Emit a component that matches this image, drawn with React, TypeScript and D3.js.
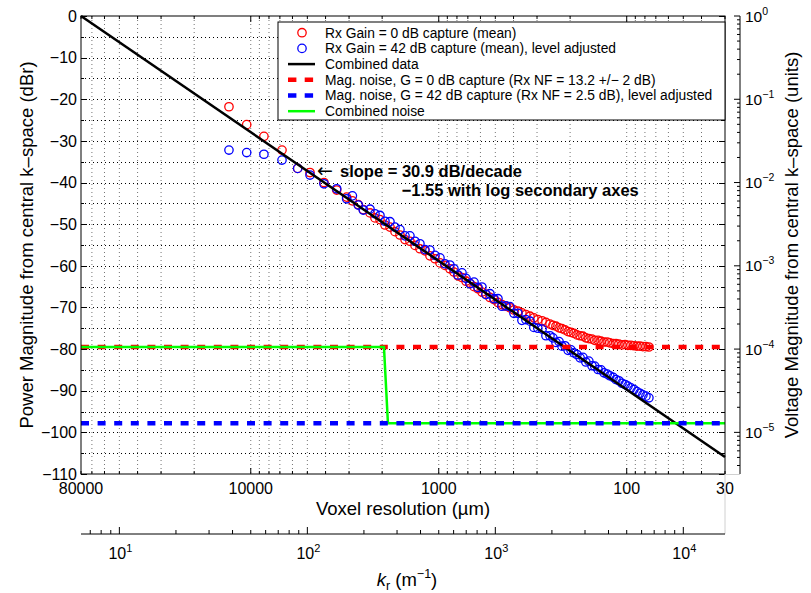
import React from "react";
import * as d3 from "d3";

// voxel resolution (um) of each radial k-space sample, shared by both captures
const voxelRes = [
  13060, 10510, 8510, 6820, 5630, 4840, 4080, 3490, 3090, 2880, 2680, 2520, 2320,
  2184, 2054, 1932, 1817, 1709, 1608, 1512, 1423, 1338, 1259, 1184, 1114, 1047, 985, 927, 872,
  830, 790, 752, 716, 682, 649, 618, 589, 561, 534, 508, 484, 461, 439, 418, 398, 379, 361, 344,
  327, 312, 297, 282, 269, 256,
  247, 238, 229, 221, 213, 205, 198, 191, 184, 177, 171, 165, 159, 153, 148, 142, 137, 132, 127,
  123, 118, 114, 110, 106, 102, 98.5, 95.0, 91.5, 88.2, 85.0, 82.0, 79.0, 76.2,
];

// Rx gain 0 dB capture (mean), dBr
const gain0Db = [
  -21.8, -26.1, -28.9, -32.2, -36.6, -37.6, -40.0, -41.8, -43.5, -44.4, -45.3, -46.5, -47.3,
  -48.5, -48.9, -50.2, -50.7, -51.8, -52.6, -53.7, -54.1, -55.1, -55.9, -56.4, -57.6, -58.3, -59.3, -59.9, -60.7,
  -61.5, -62.4, -62.8, -63.7, -64.2, -65.0, -65.5, -66.3, -66.8, -67.6, -68.1, -68.8, -69.3, -69.7, -70.1,
  -70.6, -70.9, -71.3, -71.7, -72.1, -72.5, -72.9, -73.2, -73.6, -74.0,
  -74.3, -74.5, -74.9, -75.1, -75.4, -75.8, -76.0, -76.2, -76.6, -76.8, -76.9, -77.3, -77.5, -77.6, -77.9,
  -77.9, -78.1, -78.3, -78.3, -78.5, -78.7, -78.7, -78.8, -79.0, -78.9, -79.1, -79.1, -79.2, -79.3, -79.3,
  -79.4, -79.4, -79.5,
];

// Rx gain 42 dB capture (mean), level adjusted, dBr
const gain42Db = [
  -32.2, -32.8, -33.2, -34.6, -36.6, -38.2, -40.3, -41.5, -43.9, -43.2, -45.4, -46.6, -46.4,
  -47.5, -47.9, -49.3, -49.4, -50.7, -51.3, -52.8, -52.8, -54.1, -54.7, -56.1, -56.2, -57.5, -58.1, -59.5, -59.8,
  -60.7, -62.2, -61.7, -63.0, -64.3, -63.9, -65.2, -65.1, -66.9, -66.7, -67.9, -67.9, -69.7, -69.6, -69.8,
  -71.4, -71.4, -73.1, -72.9, -73.3, -74.8, -75.0, -75.2, -76.8, -76.8,
  -77.3, -78.4, -78.2, -79.3, -79.2, -80.3, -80.2, -80.9, -81.3, -82.1, -82.0, -83.1, -82.9, -84.0, -84.1,
  -84.9, -85.0, -85.7, -86.0, -86.4, -86.8, -87.3, -87.6, -88.2, -88.5, -88.9, -89.3, -89.7, -90.2, -90.6,
  -91.0, -91.3, -91.7,
];

// combined data fit (30.9 dB/decade)
const combinedVoxel = [80000, 30];
const combinedDb = [0, -105.9];

// noise floors
const noiseG0Db = -79.5;
const noiseG42Db = -97.8;
const combinedNoiseVoxel = [80000, 1956, 1863, 30];
const combinedNoiseDb = [-79.5, -79.5, -97.8, -97.8];

// ticks
const dbTicks = [0, -10, -20, -30, -40, -50, -60, -70, -80, -90, -100, -110];
const voxelTickLabels = [80000, 10000, 1000, 100, 30];
const krExponents = [1, 2, 3, 4];
const voltExponents = [0, -1, -2, -3, -4, -5];

const legendLabels = [
  "Rx Gain = 0 dB capture (mean)",
  "Rx Gain = 42 dB capture (mean), level adjusted",
  "Combined data",
  "Mag. noise, G = 0 dB capture (Rx NF = 13.2 +/\u2212 2 dB)",
  "Mag. noise, G = 42 dB capture (Rx NF = 2.5 dB), level adjusted",
  "Combined noise",
];

const RED = "#ff0000";
const BLUE = "#0000ff";
const GREEN = "#00ff00";
const FONT = "'Liberation Sans', Arial, Helvetica, sans-serif";

// plot box
const left = 81;
const right = 725;
const top = 16;
const bottom = 474;
const krAxisY = 534;
const voltAxisX = 740;
const KR_PER_UM = 5e5; // k_r (1/m) = 0.5 / voxel(m)

const minus = (s: string) => s.replace("-", "\u2212");

export default function App() {
  const x = d3.scaleLog().domain([80000, 30]).range([left, right]);
  const y = d3.scaleLinear().domain([0, -110]).range([top, bottom]);
  const kr = d3
    .scaleLog()
    .domain([KR_PER_UM / 80000, KR_PER_UM / 30])
    .range([left, right]);
  const volt = d3
    .scaleLog()
    .domain([1, Math.pow(10, -110 / 20)])
    .range([top, bottom]);

  const line = d3
    .line<[number, number]>()
    .x((d) => x(d[0]))
    .y((d) => y(d[1]));

  const xTicks = x.ticks();
  const isDecade = (v: number) => Math.abs(Math.log10(v) - Math.round(Math.log10(v))) < 1e-9;
  const yGrid = d3.range(0, -111, -5);
  const krTicks = kr.ticks();
  const voltTicks = volt.ticks();
  const crisp = (v: number) => Math.round(v) + 0.5;

  const redPts = voxelRes.map((v, i) => [v, gain0Db[i]]);
  const bluePts = voxelRes.map((v, i) => [v, gain42Db[i]]);
  const combinedPts = combinedVoxel.map((v, i) => [v, combinedDb[i]] as [number, number]);
  const noisePts = combinedNoiseVoxel.map((v, i) => [v, combinedNoiseDb[i]] as [number, number]);

  const legX = 278;
  const legY = 22;
  const legW = right - legX;
  const legH = 98;
  const rowY = (i: number) => legY + 10.7 + i * 15.7;

  return (
    <svg
      width={811}
      height={593}
      style={{ position: "absolute", left: 0, top: 0, background: "#fff" }}
      fontFamily={FONT}
    >
      <rect x={0} y={0} width={811} height={593} fill="#fff" />

      {/* grid */}
      <g stroke="#000" strokeWidth={1} strokeDasharray="1 3">
        {yGrid
          .filter((v) => v !== 0 && v !== -110)
          .map((v) => (
            <line key={"gy" + v} x1={left} x2={right} y1={crisp(y(v))} y2={crisp(y(v))} />
          ))}
        {xTicks
          .filter((v) => v !== 80000 && v !== 30)
          .map((v) => (
            <line key={"gx" + v} x1={x(v)} x2={x(v)} y1={top} y2={bottom} strokeOpacity={0.55} />
          ))}
      </g>

      {/* scatter */}
      <g fill="none" strokeWidth={1.3}>
        {redPts.map((d, i) => (
          <circle key={"r" + i} cx={x(d[0])} cy={y(d[1])} r={4.2} stroke={RED} />
        ))}
        {bluePts.map((d, i) => (
          <circle key={"b" + i} cx={x(d[0])} cy={y(d[1])} r={4.2} stroke={BLUE} />
        ))}
      </g>

      {/* combined data */}
      <path d={line(combinedPts) || ""} stroke="#000" strokeWidth={2.5} fill="none" />

      {/* noise lines */}
      <line
        x1={x(80000)}
        x2={x(30)}
        y1={y(noiseG0Db)}
        y2={y(noiseG0Db)}
        stroke={RED}
        strokeWidth={4.5}
        strokeDasharray="8 8.6"
      />
      <path d={line(noisePts) || ""} stroke={GREEN} strokeWidth={2.5} fill="none" />
      <line
        x1={x(80000)}
        x2={x(30)}
        y1={y(noiseG42Db)}
        y2={y(noiseG42Db)}
        stroke={BLUE}
        strokeWidth={4.5}
        strokeDasharray="8 8.6"
      />

      {/* annotation */}
      <text x={317} y={177} fontSize={19} fontFamily="'DejaVu Sans', sans-serif">
        {"\u2190"}
      </text>
      <text x={340} y={177} fontSize={16.5} fontWeight="bold">
        slope = 30.9 dB/decade
      </text>
      <text x={401.7} y={196} fontSize={16.5} fontWeight="bold">
        {"\u22121.55 with log secondary axes"}
      </text>

      {/* main axes box and ticks */}
      <g stroke="#000" strokeWidth={1} fill="none">
        <rect x={left} y={top} width={right - left} height={bottom - top} />
        {yGrid.map((v) => {
          const len = v % 10 === 0 ? 6 : 3;
          const yy = crisp(y(v));
          return (
            <g key={"ty" + v}>
              <line x1={left} x2={left + len} y1={yy} y2={yy} />
              <line x1={right} x2={right - len} y1={yy} y2={yy} />
            </g>
          );
        })}
        {xTicks.map((v) => {
          const len = isDecade(v) ? 6 : 3;
          return (
            <g key={"tx" + v}>
              <line x1={x(v)} x2={x(v)} y1={bottom} y2={bottom - len} />
              <line x1={x(v)} x2={x(v)} y1={top} y2={top + len} />
            </g>
          );
        })}
      </g>

      {/* left tick labels */}
      <g fontSize={16} textAnchor="end" fill="#000">
        {dbTicks.map((v) => (
          <text key={"ly" + v} x={77} y={y(v) + 5.7}>
            {minus(String(v))}
          </text>
        ))}
      </g>

      {/* voxel labels */}
      <g fontSize={16} textAnchor="middle" fill="#000">
        {voxelTickLabels.map((v) => (
          <text key={"lx" + v} x={x(v)} y={494}>
            {v}
          </text>
        ))}
      </g>
      <text x={(left + right) / 2} y={515} fontSize={18.5} textAnchor="middle">
        Voxel resolution ({"\u00b5"}m)
      </text>
      <text
        transform={`translate(33,${(top + bottom) / 2}) rotate(-90)`}
        fontSize={18.5}
        textAnchor="middle"
      >
        Power Magnitude from central k{"\u2013"}space (dBr)
      </text>

      {/* secondary light boxes */}
      <g stroke="#d0d0d0" strokeWidth={1}>
        <line x1={right} x2={right} y1={bottom} y2={krAxisY} />
        <line x1={right} x2={voltAxisX} y1={bottom + 0.5} y2={bottom + 0.5} />
      </g>

      {/* k_r axis */}
      <g stroke="#000" strokeWidth={1}>
        <line x1={left} x2={right} y1={krAxisY} y2={krAxisY} />
        {krTicks.map((v) => {
          const len = isDecade(v) ? 7 : 4;
          return <line key={"kt" + v} x1={kr(v)} x2={kr(v)} y1={krAxisY} y2={krAxisY - len} />;
        })}
      </g>
      <g fontSize={16} textAnchor="middle" fill="#000">
        {krExponents.map((e) => (
          <text key={"kl" + e} x={kr(Math.pow(10, e)) + 1} y={559}>
            10
            <tspan fontSize={11} dy={-7}>
              {e}
            </tspan>
          </text>
        ))}
      </g>
      <text x={407} y={586} fontSize={18.5} textAnchor="middle">
        <tspan fontStyle="italic">k</tspan>
        <tspan fontSize={12.5} dy={4}>
          r
        </tspan>
        <tspan dy={-4}> (m</tspan>
        <tspan fontSize={12.5} dy={-8}>
          {"\u22121"}
        </tspan>
        <tspan dy={8}>)</tspan>
      </text>

      {/* voltage axis */}
      <g stroke="#000" strokeWidth={1}>
        <line x1={voltAxisX} x2={voltAxisX} y1={top} y2={bottom} />
        {voltTicks.map((v, i) => {
          const len = isDecade(v) ? 6 : 3;
          return (
            <line key={"vt" + i} x1={voltAxisX} x2={voltAxisX - len} y1={volt(v)} y2={volt(v)} />
          );
        })}
      </g>
      <g fontSize={15.5} fill="#000">
        {voltExponents.map((e) => (
          <text key={"vl" + e} x={745} y={volt(Math.pow(10, e)) + 5.5}>
            10
            <tspan fontSize={10.5} dy={-7}>
              {minus(String(e))}
            </tspan>
          </text>
        ))}
      </g>
      <text
        transform={`translate(798,${(top + bottom) / 2}) rotate(-90)`}
        fontSize={18.5}
        textAnchor="middle"
      >
        Voltage Magnitude from central k{"\u2013"}space (units)
      </text>

      {/* legend */}
      <g>
        <rect x={legX} y={legY} width={legW} height={legH} fill="#fff" stroke="#000" strokeWidth={1} />
        <circle cx={302} cy={rowY(0)} r={4.2} fill="none" stroke={RED} strokeWidth={1.3} />
        <circle cx={302} cy={rowY(1)} r={4.2} fill="none" stroke={BLUE} strokeWidth={1.3} />
        <line x1={288} x2={315} y1={rowY(2)} y2={rowY(2)} stroke="#000" strokeWidth={2.5} />
        <line
          x1={288}
          x2={314}
          y1={rowY(3)}
          y2={rowY(3)}
          stroke={RED}
          strokeWidth={4.5}
          strokeDasharray="8.4 8.3"
        />
        <line
          x1={288}
          x2={314}
          y1={rowY(4)}
          y2={rowY(4)}
          stroke={BLUE}
          strokeWidth={4.5}
          strokeDasharray="8.4 8.3"
        />
        <line x1={288} x2={315} y1={rowY(5)} y2={rowY(5)} stroke={GREEN} strokeWidth={2.5} />
        {legendLabels.map((t, i) => (
          <text key={"lg" + i} x={325} y={rowY(i) + 4.8} fontSize={13.8}>
            {t}
          </text>
        ))}
      </g>
    </svg>
  );
}
